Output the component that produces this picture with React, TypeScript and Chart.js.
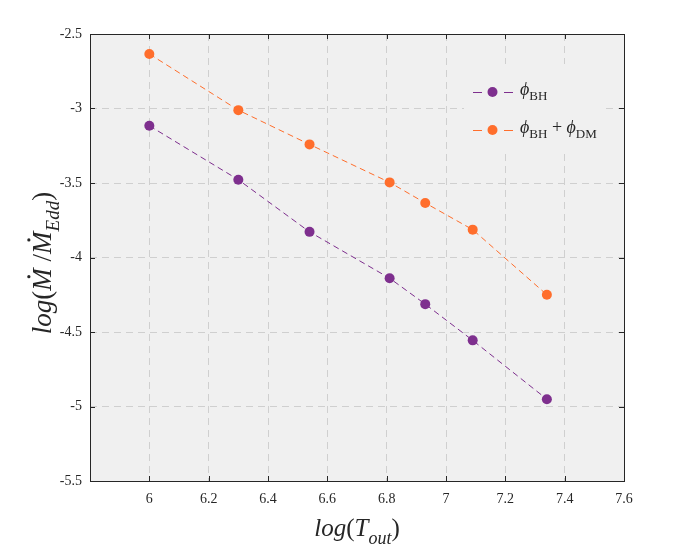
import React, { useEffect, useRef } from 'react';
import { Chart, registerables } from 'chart.js';

Chart.register(...registerables);

// log(T_out) values
const xValues = [6, 6.3, 6.54, 6.81, 6.93, 7.09, 7.34];
// phi_BH series
const bhValues = [-3.116, -3.478, -3.828, -4.139, -4.313, -4.556, -4.951];
// phi_BH + phi_DM series
const bhDmValues = [-2.634, -3.011, -3.241, -3.496, -3.634, -3.813, -4.25];

const xTicks = [5.8, 6, 6.2, 6.4, 6.6, 6.8, 7, 7.2, 7.4, 7.6];
const yTicks = [-2.5, -3, -3.5, -4, -4.5, -5, -5.5];

const PURPLE = '#7e2f8e';
const ORANGE = '#ff6e2c';
const SERIF = '"Liberation Serif", "DejaVu Serif", serif';
const INK = '#262626';

interface Seg {
  t: string;
  italic?: boolean;
  sub?: boolean;
  dot?: boolean;
}

const drawRich = (
  ctx: CanvasRenderingContext2D,
  segs: Seg[],
  x: number,
  y: number,
  size: number,
  align: 'left' | 'center',
) => {
  const fontOf = (s: Seg) =>
    `${s.italic ? 'italic ' : ''}${s.sub ? Math.round(size * 0.72) : size}px ${SERIF}`;
  let total = 0;
  const widths = segs.map((s) => {
    ctx.font = fontOf(s);
    const w = ctx.measureText(s.t).width;
    total += w;
    return w;
  });
  let cx = align === 'center' ? x - total / 2 : x;
  ctx.textAlign = 'left';
  ctx.textBaseline = 'alphabetic';
  segs.forEach((s, i) => {
    ctx.font = fontOf(s);
    const dy = s.sub ? size * 0.3 : 0;
    ctx.fillText(s.t, cx, y + dy);
    if (s.dot) {
      ctx.beginPath();
      ctx.arc(cx + widths[i] * 0.62, y - size * 0.82, size * 0.06, 0, Math.PI * 2);
      ctx.fill();
    }
    cx += widths[i];
  });
};

const decorPlugin = {
  id: 'decor',
  beforeDraw(chart: Chart) {
    const { ctx, chartArea: a } = chart;
    ctx.save();
    ctx.fillStyle = '#ffffff';
    ctx.fillRect(0, 0, chart.width, chart.height);
    ctx.fillStyle = '#f0f0f0';
    ctx.fillRect(a.left, a.top, a.right - a.left, a.bottom - a.top);
    ctx.restore();
  },
  afterDraw(chart: Chart) {
    const { ctx, chartArea: a } = chart;
    const xs = chart.scales.x;
    const ys = chart.scales.y;
    ctx.save();
    // inward tick marks on all four sides
    ctx.strokeStyle = INK;
    ctx.lineWidth = 1;
    ctx.beginPath();
    xTicks.forEach((v) => {
      const px = Math.round(xs.getPixelForValue(v)) + 0.5;
      ctx.moveTo(px, a.bottom);
      ctx.lineTo(px, a.bottom - 5);
      ctx.moveTo(px, a.top);
      ctx.lineTo(px, a.top + 5);
    });
    yTicks.forEach((v) => {
      const py = Math.round(ys.getPixelForValue(v)) + 0.5;
      ctx.moveTo(a.left, py);
      ctx.lineTo(a.left + 5, py);
      ctx.moveTo(a.right, py);
      ctx.lineTo(a.right - 5, py);
    });
    ctx.stroke();
    ctx.strokeRect(
      Math.round(a.left) + 0.5,
      Math.round(a.top) + 0.5,
      Math.round(a.right - a.left),
      Math.round(a.bottom - a.top),
    );

    // legend
    ctx.fillStyle = '#f0f0f0';
    ctx.fillRect(464, 64, 137, 86);
    const rows: { color: string; y: number; segs: Seg[] }[] = [
      {
        color: PURPLE,
        y: 92,
        segs: [{ t: '\u03d5', italic: true }, { t: 'BH', sub: true }],
      },
      {
        color: ORANGE,
        y: 130,
        segs: [
          { t: '\u03d5', italic: true },
          { t: 'BH', sub: true },
          { t: ' + ' },
          { t: '\u03d5', italic: true },
          { t: 'DM', sub: true },
        ],
      },
    ];
    rows.forEach((r) => {
      ctx.strokeStyle = r.color;
      ctx.lineWidth = 1;
      ctx.beginPath();
      ctx.moveTo(473, r.y + 0.5);
      ctx.lineTo(482, r.y + 0.5);
      ctx.moveTo(504, r.y + 0.5);
      ctx.lineTo(513, r.y + 0.5);
      ctx.stroke();
      ctx.fillStyle = r.color;
      ctx.beginPath();
      ctx.arc(492.5, r.y, 5, 0, Math.PI * 2);
      ctx.fill();
      ctx.fillStyle = INK;
      drawRich(ctx, r.segs, 520, r.y + 3, 18, 'left');
    });

    // axis titles
    ctx.fillStyle = INK;
    drawRich(
      ctx,
      [
        { t: 'log', italic: true },
        { t: '(' },
        { t: 'T', italic: true },
        { t: 'out', italic: true, sub: true },
        { t: ')' },
      ],
      (a.left + a.right) / 2,
      536,
      25,
      'center',
    );
    ctx.translate(51, 263);
    ctx.rotate(-Math.PI / 2);
    drawRich(
      ctx,
      [
        { t: 'log', italic: true },
        { t: '(' },
        { t: 'M', italic: true, dot: true },
        { t: ' /' },
        { t: 'M', italic: true, dot: true },
        { t: 'Edd', italic: true, sub: true },
        { t: ')' },
      ],
      0,
      0,
      27,
      'center',
    );
    ctx.restore();
  },
};

const fmt = (v: number) => String(parseFloat(v.toFixed(1)));

const App: React.FC = () => {
  const canvasRef = useRef<HTMLCanvasElement>(null);
  const chartRef = useRef<Chart>();

  useEffect(() => {
    document.body.style.margin = '0';
    if (!canvasRef.current) return;
    chartRef.current = new Chart(canvasRef.current, {
      type: 'scatter',
      data: {
        datasets: [
          {
            label: '\u03d5BH',
            data: xValues.map((x, i) => ({ x, y: bhValues[i] })),
            showLine: true,
            borderColor: PURPLE,
            backgroundColor: PURPLE,
            borderWidth: 1,
            borderDash: [6, 4],
            pointRadius: 5,
            pointBorderWidth: 0,
          },
          {
            label: '\u03d5BH + \u03d5DM',
            data: xValues.map((x, i) => ({ x, y: bhDmValues[i] })),
            showLine: true,
            borderColor: ORANGE,
            backgroundColor: ORANGE,
            borderWidth: 1,
            borderDash: [6, 4],
            pointRadius: 5,
            pointBorderWidth: 0,
          },
        ],
      },
      options: {
        responsive: false,
        animation: false,
        layout: { padding: { left: 0, top: 34, right: 65, bottom: 0 } },
        plugins: {
          legend: { display: false },
          tooltip: { enabled: false },
        },
        scales: {
          x: {
            type: 'linear',
            min: 5.8,
            max: 7.6,
            afterBuildTicks: (s: any) => {
              s.ticks = xTicks.map((value) => ({ value }));
            },
            afterFit: (s: any) => {
              s.height = 69;
            },
            grid: {
              color: (c: any) => (c.tick && c.tick.value === 5.8 ? 'rgba(0,0,0,0)' : '#cfcfcf'),
              drawTicks: false,
              lineWidth: 1,
            },
            border: { display: false, dash: [7, 5] },
            ticks: {
              padding: 10,
              color: INK,
              font: { family: SERIF, size: 14 },
              callback: (v: any) => (Math.abs(Number(v) - 5.8) < 1e-6 ? '' : fmt(Number(v))),
            },
          },
          y: {
            type: 'linear',
            min: -5.5,
            max: -2.5,
            afterBuildTicks: (s: any) => {
              s.ticks = yTicks.map((value) => ({ value }));
            },
            afterFit: (s: any) => {
              s.width = 90;
            },
            grid: { color: '#cfcfcf', drawTicks: false, lineWidth: 1 },
            border: { display: false, dash: [7, 5] },
            ticks: {
              padding: 8,
              color: INK,
              font: { family: SERIF, size: 14 },
              callback: (v: any) => fmt(Number(v)),
            },
          },
        },
      },
      plugins: [decorPlugin],
    });
    return () => {
      chartRef.current?.destroy();
    };
  }, []);

  return <canvas ref={canvasRef} width={689} height={550} />;
};

export default App;
